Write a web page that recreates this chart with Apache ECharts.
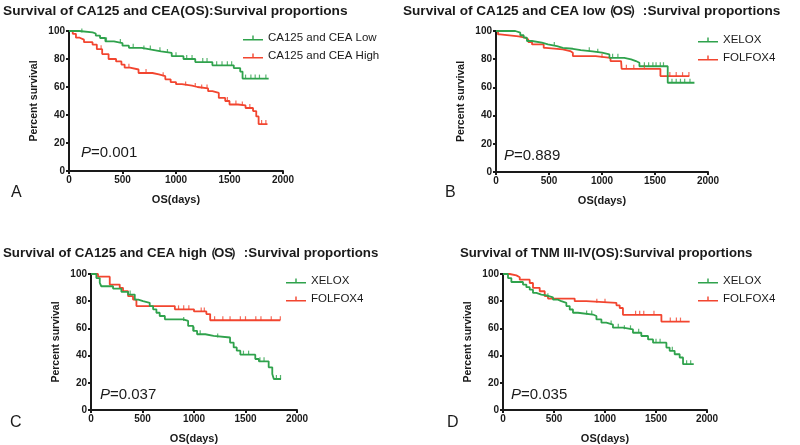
<!DOCTYPE html>
<html><head><meta charset="utf-8">
<script src="https://cdn.jsdelivr.net/npm/echarts@6/dist/echarts.min.js"></script>
<style>html,body{margin:0;background:#fff}#c{width:800px;height:445px}</style>
</head><body><div id="c"></div>
<script>
// ---------- DATA (days, percent survival) ----------
const xTicks = [0, 500, 1000, 1500, 2000];
const yTicks = [0, 20, 40, 60, 80, 100];

const titleA = 'Survival of CA125 and CEA(OS):Survival proportions';
const titleB = 'Survival of CA125 and CEA low\uFF08OS\uFF09 :Survival proportions';
const titleC = 'Survival of CA125 and CEA high\uFF08OS\uFF09 :Survival proportions';
const titleD = 'Survival of TNM III-IV(OS):Survival proportions';

const namesA = ['CA125 and CEA Low', 'CA125 and CEA High'];
const namesBCD = ['XELOX', 'FOLFOX4'];
const pValues = ['0.001', '0.889', '0.037', '0.035'];
const letters = ['A', 'B', 'C', 'D'];

const lowA = [[0,100],[95,99],[220,98.2],[250,96.7],[290,95],[340,92.6],[420,91.4],[500,89.5],[560,88],[680,86.7],[770,85.5],[860,84.3],[960,82],[1070,80],[1180,77.8],[1340,75.5],[1540,73.5],[1600,71],[1622,66],[1866,66]];
const highA = [[0,100],[35,98],[65,95.2],[100,93.8],[140,92],[220,90.3],[260,87],[310,83.5],[370,80],[440,78.3],[490,76],[520,73.8],[570,72.5],[650,70],[780,69],[840,67.7],[900,65.5],[950,63.5],[1000,62],[1055,61],[1150,60],[1200,59],[1300,57],[1340,55.8],[1400,52.2],[1460,50],[1500,47.5],[1580,46.8],[1650,45],[1720,42.8],[1750,39],[1772,33.5],[1855,33.5]];
const lowACens = [120,350,480,600,700,760,850,920,1000,1100,1150,1250,1290,1380,1430,1480,1520,1650,1700,1740,1780,1840];
const highACens = [300,560,720,880,1090,1180,1240,1290,1480,1560,1620,1690,1800,1840];

const xeloxB = [[0,100],[182,98.8],[229,97],[261,95.3],[292,92.9],[339,91.7],[433,90.5],[490,89.3],[575,88.1],[630,87.4],[725,86.5],[800,85.6],[910,84.6],[1000,83.4],[1070,81],[1210,79.9],[1275,78.7],[1320,77.5],[1353,75],[1620,63.3],[1872,63.3]];
const folfoxB = [[0,100],[19,97.6],[38,96.2],[213,95.3],[275,94],[305,92.2],[340,90.5],[450,88.1],[470,87],[630,85.8],[700,84.6],[725,82.2],[940,81],[1080,78.7],[1180,77.5],[1185,73.2],[1551,68],[1824,68]];
const xeloxBCens = [550,880,960,1100,1150,1400,1440,1480,1510,1550,1580,1660,1700,1740,1780,1830];
const folfoxBCens = [1000,1230,1300,1400,1640,1700,1760,1820];

const xeloxC = [[0,100],[52,97],[85,93.4],[100,91],[214,89.3],[295,86.9],[360,84.9],[425,81.2],[460,80],[505,78.8],[570,76.4],[603,74],[635,71.5],[667,69.1],[717,66.7],[895,65.5],[943,61.8],[992,58.2],[1030,55.7],[1110,54.5],[1190,53.3],[1350,49.6],[1385,46],[1415,43.6],[1450,40.7],[1595,37.5],[1630,35.8],[1725,31.4],[1760,26.5],[1775,22.8],[1845,22.8]];
const folfoxC = [[0,100],[68,98],[182,92.2],[279,89.8],[311,87.4],[360,83.7],[408,81.2],[441,76.4],[814,74],[1000,72.5],[1120,70.5],[1157,66],[1838,66]];
const xeloxCCens = [380,900,1000,1060,1230,1480,1530,1640,1680,1800,1840];
const folfoxCCens = [850,900,950,1070,1100,1200,1280,1350,1450,1500,1600,1650,1750,1838];

const xeloxD = [[0,100],[49,97],[82,94.1],[196,92.2],[229,90.3],[262,88.5],[294,86.1],[327,84.9],[376,84.2],[425,82.9],[490,81.2],[539,80],[572,78.8],[621,76.4],[654,73.9],[686,71.5],[735,70.2],[882,69.1],[916,66.6],[965,64.2],[1013,62.8],[1078,60.5],[1176,59.3],[1274,56.8],[1356,54.4],[1422,51.9],[1471,49.5],[1602,45.9],[1634,43.5],[1683,41],[1732,38.6],[1765,33.7],[1870,33.7]];
const folfoxD = [[0,100],[66,99],[131,97.6],[164,95.8],[262,93.4],[294,89.8],[360,87.3],[409,83.7],[441,81.9],[703,80],[817,78.8],[1112,77],[1144,75],[1176,70],[1553,65],[1830,65]];
const xeloxDCens = [440,820,870,1060,1130,1190,1250,1330,1500,1540,1660,1800,1840];
const folfoxDCens = [920,1000,1300,1340,1380,1480,1640,1700,1740];

// ---------- LAYOUT / STYLE ----------
const GREEN = '#2fa24c', RED = '#f2452f', INK = '#1a1a1a';
const FONT = '"Liberation Sans", Arial, sans-serif';
const grids = [
  {left: 69, top: 31, width: 214, height: 140},
  {left: 496, top: 31, width: 212, height: 141},
  {left: 91, top: 274, width: 206, height: 137},
  {left: 503, top: 274, width: 204, height: 137}
];
const titlePos = [[3, 4], [403, 4], [3, 247], [460, 247]];
const titleSize = [13.7, 13.6, 13.3, 13.2];
const legendPos = [[243, 32], [698, 34], [286, 275], [698, 275]];
const pPos = [[81, 145], [504, 148], [100, 387], [511, 387]];
const letterPos = [[11, 185], [445, 185], [10, 415], [447, 415]];

const panels = [
  {title: titleA, names: namesA, curves: [lowA, highA], cens: [lowACens, highACens]},
  {title: titleB, names: namesBCD, curves: [xeloxB, folfoxB], cens: [xeloxBCens, folfoxBCens]},
  {title: titleC, names: namesBCD, curves: [xeloxC, folfoxC], cens: [xeloxCCens, folfoxCCens]},
  {title: titleD, names: namesBCD, curves: [xeloxD, folfoxD], cens: [xeloxDCens, folfoxDCens]}
];
const colors = [GREEN, RED];

function survAt(curve, t) {
  let v = curve[0][1];
  for (const p of curve) { if (p[0] <= t) v = p[1]; else break; }
  return v;
}
// fullwidth parentheses drawn in tight boxes (as in the original typesetting)
function richTitle(s) {
  return s.replace(/\uFF08/g, '{po|\uFF08}').replace(/\uFF09/g, '{pc|\uFF09}');
}

const option = {
  animation: false,
  backgroundColor: '#fff',
  textStyle: {fontFamily: FONT},
  title: [], legend: [], grid: [], xAxis: [], yAxis: [], series: [], graphic: []
};

panels.forEach((pn, i) => {
  const ts = titleSize[i];
  option.grid.push(grids[i]);
  option.title.push({
    text: richTitle(pn.title), left: titlePos[i][0], top: titlePos[i][1], padding: 0,
    textStyle: {fontSize: ts, fontWeight: 'bold', color: INK, fontFamily: FONT,
      rich: {
        po: {fontSize: ts, fontWeight: 'bold', color: INK, width: 7, align: 'right'},
        pc: {fontSize: ts, fontWeight: 'bold', color: INK, width: 7, align: 'left'}
      }}
  });
  option.legend.push({
    data: pn.names, orient: 'vertical', left: legendPos[i][0], top: legendPos[i][1], padding: 0,
    itemWidth: 20, itemHeight: 5, itemGap: 6,
    icon: 'path://M0,3.5 H20 V5 H0 Z M9.3,0 H10.7 V3.5 H9.3 Z',
    textStyle: {fontSize: 11.5, color: INK, fontFamily: FONT},
    selectedMode: false
  });
  option.xAxis.push({
    type: 'value', gridIndex: i, min: xTicks[0], max: xTicks[xTicks.length - 1], interval: xTicks[1] - xTicks[0],
    name: 'OS(days)', nameLocation: 'middle', nameGap: 23,
    nameTextStyle: {fontSize: 11, fontWeight: 'bold', color: INK, fontFamily: FONT},
    axisLine: {show: true, lineStyle: {color: INK, width: 2}},
    axisTick: {show: true, length: 3, lineStyle: {color: INK, width: 2}},
    axisLabel: {fontSize: 10, fontWeight: 'bold', color: INK, margin: 4, fontFamily: FONT, formatter: v => String(v)},
    splitLine: {show: false}
  });
  option.yAxis.push({
    type: 'value', gridIndex: i, min: yTicks[0], max: yTicks[yTicks.length - 1], interval: yTicks[1] - yTicks[0],
    name: 'Percent survival', nameLocation: 'middle', nameGap: 29,
    nameTextStyle: {fontSize: 10.5, fontWeight: 'bold', color: INK, fontFamily: FONT},
    axisLine: {show: true, lineStyle: {color: INK, width: 2}},
    axisTick: {show: true, length: 3, lineStyle: {color: INK, width: 2}},
    axisLabel: {fontSize: 10, fontWeight: 'bold', color: INK, margin: 4, fontFamily: FONT, formatter: v => String(v)},
    splitLine: {show: false}
  });
  [1, 0].forEach(k => {
    option.series.push({
      type: 'line', name: pn.names[k], xAxisIndex: i, yAxisIndex: i,
      data: pn.curves[k], step: 'end', showSymbol: false, symbol: 'none',
      color: colors[k], lineStyle: {width: 1.8, color: colors[k]}, z: 3
    });
    option.series.push({
      type: 'scatter', name: 'cens' + i + k, xAxisIndex: i, yAxisIndex: i,
      data: pn.cens[k].map(t => [t, survAt(pn.curves[k], t)]),
      symbol: 'rect', symbolSize: [1.2, 4], symbolOffset: [0, -2],
      itemStyle: {color: colors[k]}, z: 3
    });
  });
  option.graphic.push({
    type: 'text', left: pPos[i][0], top: pPos[i][1],
    style: {text: '{i|P}=' + pValues[i], fill: INK, font: '15px ' + FONT,
      rich: {i: {fontStyle: 'italic', fontSize: 15, fill: INK, fontFamily: FONT}}}
  });
  option.graphic.push({
    type: 'text', left: letterPos[i][0], top: letterPos[i][1],
    style: {text: letters[i], fill: INK, font: '16px ' + FONT}
  });
});

const chart = echarts.init(document.getElementById('c'));
chart.setOption(option);
</script>
</body></html>
